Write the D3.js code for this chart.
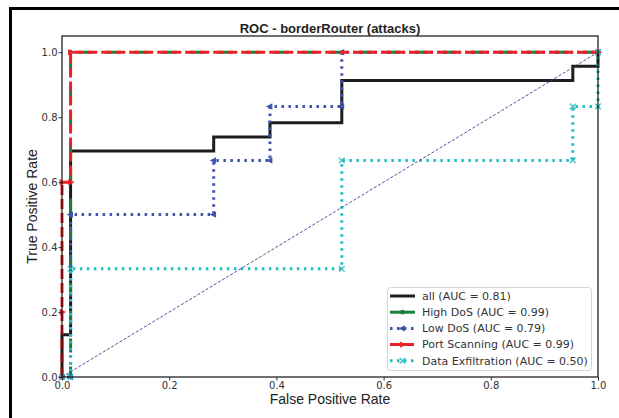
<!DOCTYPE html>
<html>
<head>
<meta charset="utf-8">
<script src="https://cdn.jsdelivr.net/npm/d3@7"></script>
<style>
  body { margin: 0; background: #fff; }
  svg { display: block; }
  .tick text { font-family: "DejaVu Sans", sans-serif; font-size: 10px; fill: #333; }
  .tick line { stroke: #333; }
  .title { font-family: "Liberation Sans", Arial, sans-serif; font-weight: bold; font-size: 13px; fill: #222; }
  .axis-label { font-family: "Liberation Sans", Arial, sans-serif; font-size: 14px; fill: #222; }
  .legend text { font-family: "DejaVu Sans", sans-serif; font-size: 11px; fill: #333; }
</style>
</head>
<body>
<svg width="619" height="418"></svg>
<script>
// ROC curves (fpr / tpr per curve)
const allFpr = [0, 0, 0.016, 0.016, 0.283, 0.283, 0.388, 0.388, 0.522, 0.522, 0.953, 0.953, 1, 1];
const allTpr = [0, 0.13, 0.13, 0.696, 0.696, 0.739, 0.739, 0.783, 0.783, 0.913, 0.913, 0.957, 0.957, 1];

const highDosFpr = [0, 0.016, 0.016, 1];
const highDosTpr = [0, 0, 1, 1];

const lowDosFpr = [0, 0.016, 0.016, 0.283, 0.283, 0.388, 0.388, 0.522, 0.522, 1];
const lowDosTpr = [0, 0, 0.5, 0.5, 0.667, 0.667, 0.833, 0.833, 1, 1];

const portScanFpr = [0, 0, 0, 0.016, 0.016, 1];
const portScanTpr = [0, 0.2, 0.6, 0.6, 1, 1];

const exfilFpr = [0, 0.016, 0.016, 0.522, 0.522, 0.953, 0.953, 1, 1];
const exfilTpr = [0, 0, 0.333, 0.333, 0.667, 0.667, 0.833, 0.833, 1];

const legendLabels = ["all (AUC = 0.81)", "High DoS (AUC = 0.99)", "Low DoS (AUC = 0.79)",
                      "Port Scanning (AUC = 0.99)", "Data Exfiltration (AUC = 0.50)"];
const xTicks = [0, 0.2, 0.4, 0.6, 0.8, 1.0];
const yTicks = [0, 0.2, 0.4, 0.6, 0.8, 1.0];

const svg = d3.select("svg");
const margin = { left: 62, right: 21, top: 36, bottom: 41 };
const width = 619, height = 418;

const x = d3.scaleLinear().domain([0, 1]).range([margin.left, width - margin.right]);
const y = d3.scaleLinear().domain([0, 1.05]).range([height - margin.bottom, margin.top]);

// outer figure frame (only top and left edges show in the crop)
svg.append("path")
    .attr("d", "M10.5,418 V8.5 H619")
    .style("fill", "none")
    .style("stroke", "#000")
    .style("stroke-width", 3);

const line = d3.line().x(d => x(d[0])).y(d => y(d[1]));

// pixel length of a polyline up to point index n
function lenTo(fpr, tpr, n) {
    let L = 0;
    for (let i = 1; i <= n; i++) L += Math.hypot(x(fpr[i]) - x(fpr[i - 1]), y(tpr[i]) - y(tpr[i - 1]));
    return L;
}

// High DoS sits under the dashed Port Scanning line; phase its dashes so it
// shows through every other red gap along the top, like the original
const redPhase = lenTo(portScanFpr, portScanTpr, 4) % 14;
const gapStart = ((10 - redPhase) % 14 + 14) % 14;
const greenOffset = (((5 - gapStart - lenTo(highDosFpr, highDosTpr, 2)) % 28) + 28) % 28;

const series = [
    { fpr: allFpr, tpr: allTpr, color: "#1d1d1d", width: 3, dash: null, offset: 0, marker: null },
    { fpr: highDosFpr, tpr: highDosTpr, color: "#1b7f3c", width: 3, dash: "14,14", offset: greenOffset, marker: "circle" },
    { fpr: lowDosFpr, tpr: lowDosTpr, color: "#3f55ad", width: 3, dash: "2.5,4.5", offset: 0, marker: "left" },
    { fpr: portScanFpr, tpr: portScanTpr, color: "#ec2126", width: 3, dash: "10,4", offset: 0, marker: "right" },
    { fpr: exfilFpr, tpr: exfilTpr, color: "#22bfc2", width: 3, dash: "2.5,4.5", offset: 0, marker: "x" }
];

function drawMarker(g, type, color, px, py, s) {
    if (type === "circle") {
        g.append("circle").attr("cx", px).attr("cy", py).attr("r", s * 0.6).style("fill", color);
    } else if (type === "left") {
        g.append("path").attr("d", `M${px - s},${py} L${px + s * 0.6},${py - s * 0.8} L${px + s * 0.6},${py + s * 0.8} Z`).style("fill", color);
    } else if (type === "right") {
        g.append("path").attr("d", `M${px + s},${py} L${px - s * 0.6},${py - s * 0.8} L${px - s * 0.6},${py + s * 0.8} Z`).style("fill", color);
    } else if (type === "x") {
        g.append("path").attr("d", `M${px - s * 0.7},${py - s * 0.7} L${px + s * 0.7},${py + s * 0.7} M${px - s * 0.7},${py + s * 0.7} L${px + s * 0.7},${py - s * 0.7}`)
            .style("stroke", color).style("stroke-width", 1.2);
    }
}

const plot = svg.append("g");

series.forEach(s => {
    const pts = s.fpr.map((f, i) => [f, s.tpr[i]]);
    plot.append("path")
        .datum(pts)
        .attr("d", line)
        .style("fill", "none")
        .style("stroke", s.color)
        .style("stroke-width", s.width)
        .style("stroke-dasharray", s.dash)
        .style("stroke-dashoffset", s.offset)
        .style("stroke-linejoin", "miter");
    if (s.marker) {
        pts.forEach(p => drawMarker(plot, s.marker, s.color, x(p[0]), y(p[1]), 4));
    }
});

// chance diagonal
plot.append("line")
    .attr("x1", x(0)).attr("y1", y(0))
    .attr("x2", x(1)).attr("y2", y(1))
    .style("stroke", "#3c3c96")
    .style("stroke-width", 0.9)
    .style("stroke-dasharray", "3,1.8");

// axes
svg.append("g")
    .attr("transform", `translate(0,${height - margin.bottom})`)
    .call(d3.axisBottom(x).tickValues(xTicks).tickFormat(d3.format(".1f")).tickSize(3.5).tickPadding(1));

svg.append("g")
    .attr("transform", `translate(${margin.left},0)`)
    .call(d3.axisLeft(y).tickValues(yTicks).tickFormat(d3.format(".1f")).tickSize(3.5).tickPadding(1));

svg.selectAll(".domain").remove();
svg.append("rect")
    .attr("x", margin.left).attr("y", margin.top)
    .attr("width", width - margin.left - margin.right)
    .attr("height", height - margin.top - margin.bottom)
    .style("fill", "none")
    .style("stroke", "#111")
    .style("stroke-width", 1.2);

// title and labels
svg.append("text")
    .attr("class", "title")
    .attr("x", (margin.left + width - margin.right) / 2)
    .attr("y", 32.5)
    .attr("text-anchor", "middle")
    .text("ROC - borderRouter (attacks)");

svg.append("text")
    .attr("class", "axis-label")
    .attr("x", (margin.left + width - margin.right) / 2)
    .attr("y", 404)
    .attr("text-anchor", "middle")
    .text("False Positive Rate");

svg.append("text")
    .attr("class", "axis-label")
    .attr("transform", `translate(37,${(margin.top + height - margin.bottom) / 2}) rotate(-90)`)
    .attr("text-anchor", "middle")
    .text("True Positive Rate");

// legend
const legend = svg.append("g").attr("class", "legend");
legend.append("rect")
    .attr("x", 387.5).attr("y", 287.5)
    .attr("width", 204).attr("height", 83)
    .attr("rx", 3)
    .style("fill", "#fff")
    .style("fill-opacity", 0.85)
    .style("stroke", "#d5d5d5");

series.forEach((s, i) => {
    const ly = 296 + i * 16.2;
    legend.append("line")
        .attr("x1", 390).attr("x2", 415)
        .attr("y1", ly).attr("y2", ly)
        .style("stroke", s.color)
        .style("stroke-width", s.width)
        .style("stroke-dasharray", i === 1 ? null : s.dash);
    if (s.marker) drawMarker(legend, s.marker, s.color, 402.5, ly, 4);
    legend.append("text")
        .attr("x", 422)
        .attr("y", ly)
        .attr("dy", "0.35em")
        .text(legendLabels[i]);
});
</script>
</body>
</html>
